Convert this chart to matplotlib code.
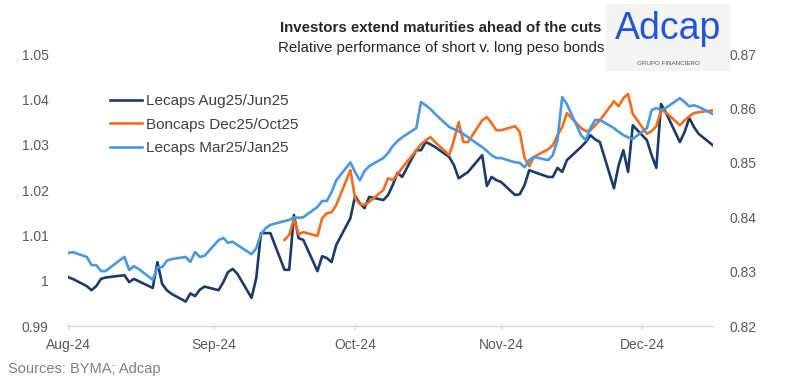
import numpy as np
import pandas as pd
import matplotlib
matplotlib.use("Agg")
import matplotlib.pyplot as plt
import matplotlib.dates as mdates
from matplotlib.patches import Rectangle

plt.rcParams["font.family"] = ["Liberation Sans", "DejaVu Sans"]

# --- data (business days, Aug 1 - Dec 16 2024) ---
dates = pd.bdate_range("2024-08-01", "2024-12-16")

# left axis
lecaps_aug25_jun25 = [
    1.0008, 1.0004, 0.9988, 0.9979, 0.9988, 1.0004, 1.0007, 1.0011, 1.0012, 0.9997, 1.0004,
    0.9999, 0.9984, 1.0041, 0.9993, 0.9979, 0.9971, 0.9954, 0.9972, 0.9966, 0.9980, 0.9987,
    0.9979, 0.9997, 1.0019, 1.0026, 1.0015, 0.9962, 1.0006, 1.0105, 1.0105, 1.0105, 1.0024,
    1.0024, 1.0145, 1.0094, 1.0090, 1.0021, 1.0054, 1.0050, 1.0041, 1.0079, 1.0138,
    1.0187, 1.0171, 1.0160, 1.0185, 1.0178, 1.0189, 1.0211, 1.0238, 1.0229, 1.0288, 1.0288,
    1.0306, 1.0301, 1.0295, 1.0273, 1.0255, 1.0226, 1.0233, 1.0240, 1.0277, 1.0209, 1.0229, 1.0222,
    1.0218, 1.0189, 1.0191, 1.0211, 1.0244, 1.0240, 1.0229, 1.0229, 1.0249, 1.0240, 1.0266,
    1.0295, 1.0306, 1.0321, 1.0312, 1.0306, 1.0204, 1.0255, 1.0288, 1.0240, 1.0343,
    1.0310, 1.0277, 1.0249, 1.0390, 1.0372, 1.0306, 1.0328, 1.0359, 1.0339, 1.0324, 1.0299,
]
boncaps_dec25_oct25 = [np.nan] * 32 + [
    1.0090, 1.0101, 1.0136, 1.0103, 1.0107, 1.0099, 1.0138, 1.0149, 1.0151, 1.0167, 1.0244,
    1.0182, 1.0169, 1.0167, 1.0174, 1.0200, 1.0226, 1.0222, 1.0235, 1.0249, 1.0288, 1.0301,
    1.0310, 1.0317, 1.0306, 1.0277, 1.0310, 1.0350, 1.0306, 1.0306, 1.0354, 1.0361, 1.0348, 1.0332,
    1.0332, 1.0341, 1.0328, 1.0271, 1.0253, 1.0273, 1.0290, 1.0299, 1.0321, 1.0339, 1.0370,
    1.0337, 1.0330, 1.0332, 1.0343, 1.0354, 1.0396, 1.0385, 1.0403, 1.0412, 1.0368,
    1.0324, 1.0330, 1.0341, 1.0376, 1.0372, 1.0343, 1.0354, 1.0363, 1.0370, 1.0372, 1.0376,
]
# right axis
lecaps_mar25_jan25 = [
    0.8334, 0.8336, 0.8327, 0.8312, 0.8312, 0.8301, 0.8301, 0.8321, 0.8327, 0.8303, 0.8310,
    0.8305, 0.8285, 0.8308, 0.8308, 0.8320, 0.8323, 0.8327, 0.8318, 0.8336, 0.8327, 0.8329,
    0.8358, 0.8362, 0.8353, 0.8355, 0.8349, 0.8332, 0.8343, 0.8369, 0.8380, 0.8386, 0.8393,
    0.8395, 0.8400, 0.8399, 0.8400, 0.8419, 0.8430, 0.8430, 0.8446, 0.8468, 0.8501,
    0.8483, 0.8468, 0.8485, 0.8494, 0.8509, 0.8518, 0.8531, 0.8540, 0.8547, 0.8564, 0.8612,
    0.8606, 0.8599, 0.8590, 0.8566, 0.8562, 0.8558, 0.8553, 0.8547, 0.8529, 0.8522, 0.8514, 0.8509,
    0.8509, 0.8501, 0.8500, 0.8492, 0.8505, 0.8511, 0.8505, 0.8514, 0.8542, 0.8621, 0.8608,
    0.8551, 0.8542, 0.8564, 0.8579, 0.8579, 0.8564, 0.8557, 0.8551, 0.8547, 0.8544,
    0.8564, 0.8597, 0.8601, 0.8597, 0.8601, 0.8619, 0.8612, 0.8604, 0.8606, 0.8603, 0.8590,
]

left_ticks = [0.99, 1.00, 1.01, 1.02, 1.03, 1.04, 1.05]
left_labels = ["0.99", "1", "1.01", "1.02", "1.03", "1.04", "1.05"]
right_ticks = [0.82, 0.83, 0.84, 0.85, 0.86, 0.87]

NAVY, ORANGE, LBLUE = "#1d3a6b", "#f26d1f", "#4a97e2"
TXT = "#595959"

fig = plt.figure(figsize=(8, 3.84), dpi=100)
ax = fig.add_axes([0.085, 0.151, 0.806, 0.708])
ax2 = ax.twinx()

l1, = ax.plot(dates, lecaps_aug25_jun25, color=NAVY, lw=1.9, label="Lecaps Aug25/Jun25")
l2, = ax.plot(dates, boncaps_dec25_oct25, color=ORANGE, lw=1.9, label="Boncaps Dec25/Oct25")
l3, = ax2.plot(dates, lecaps_mar25_jan25, color=LBLUE, lw=1.9, label="Lecaps Mar25/Jan25")

ax.set_ylim(0.99, 1.05)
ax2.set_ylim(0.82, 0.87)
ax.set_xlim(dates[0], dates[-1])
ax.set_yticks(left_ticks)
ax.set_yticklabels(left_labels)
ax2.set_yticks(right_ticks)
ax2.set_yticklabels([f"{t:.2f}" for t in right_ticks])

ax.xaxis.set_major_locator(mdates.MonthLocator())
ax.xaxis.set_major_formatter(mdates.DateFormatter("%b-%y"))

for a in (ax, ax2):
    for s in a.spines.values():
        s.set_visible(False)
ax.spines["bottom"].set_visible(True)
ax.spines["bottom"].set_color("#d9d9d9")
ax.spines["bottom"].set_linewidth(1.0)

ax.tick_params(axis="y", length=0, pad=14, labelsize=10, labelcolor=TXT)
ax2.tick_params(axis="y", length=0, pad=12, labelsize=10, labelcolor=TXT)
ax.tick_params(axis="x", direction="inout", length=5, color="#d9d9d9",
               pad=6, labelsize=10, labelcolor=TXT)

ax2.legend(handles=[l1, l2, l3], loc="upper left", bbox_to_anchor=(0.137, 0.755),
           bbox_transform=fig.transFigure, frameon=False, fontsize=11,
           handlelength=2.1, handletextpad=0.3, labelspacing=0.62,
           borderpad=0, borderaxespad=0, labelcolor="#404040")

fig.text(0.551, 0.928, "Investors extend maturities ahead of the cuts", ha="center",
         va="center", fontsize=10.8, fontweight="bold", color="#262626")
fig.text(0.551, 0.874, "Relative performance of short v. long peso bonds", ha="center",
         va="center", fontsize=10.8, color="#262626")
fig.text(0.01, 0.04, "Sources: BYMA; Adcap", ha="left", va="center", fontsize=10.5, color="#7f7f7f")

# logo
fig.patches.append(Rectangle((0.757, 0.815), 0.155, 0.175, transform=fig.transFigure,
                             facecolor="#f4f4f4", edgecolor="none", zorder=0))
fig.text(0.835, 0.925, "Adcap", ha="center", va="center", fontsize=27,
         color="#1f57d8", fontweight="light")
fig.text(0.835, 0.835, "GRUPO FINANCIERO", ha="center", va="center", fontsize=4.5,
         color="#555555")

fig.savefig("out.png", dpi=100, facecolor="white")
